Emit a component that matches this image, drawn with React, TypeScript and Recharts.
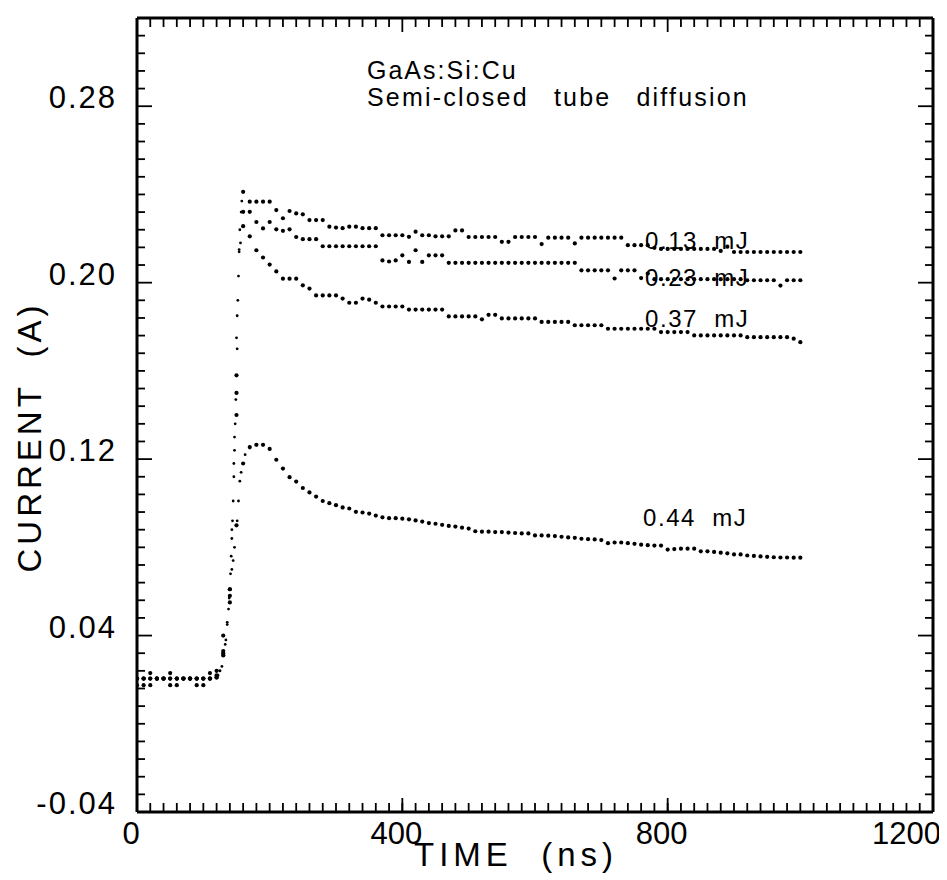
import React from "react";
import { ReferenceDot, Scatter, ScatterChart, XAxis, YAxis } from "recharts";

// sample times (ns) shared by the four traces
const timeNs = [
  0, 10, 20, 30, 40, 50, 60, 70, 80, 90,
  100, 110, 120, 130, 140, 150, 160, 170, 180, 190,
  200, 210, 220, 230, 240, 250, 260, 270, 280, 290,
  300, 310, 320, 330, 340, 350, 360, 370, 380, 390,
  400, 410, 420, 430, 440, 450, 460, 470, 480, 490,
  500, 510, 520, 530, 540, 550, 560, 570, 580, 590,
  600, 610, 620, 630, 640, 650, 660, 670, 680, 690,
  700, 710, 720, 730, 740, 750, 760, 770, 780, 790,
  800, 810, 820, 830, 840, 850, 860, 870, 880, 890,
  900, 910, 920, 930, 940, 950, 960, 970, 980, 990,
  1000,
];

// current (A) for each pulse energy
const current013 = [
  0.0205, 0.0205, 0.023, 0.0205, 0.0205, 0.023, 0.0205, 0.0205, 0.0205, 0.0205,
  0.0205, 0.023, 0.022, 0.033, 0.061, 0.158, 0.2412, 0.2367, 0.2367, 0.2367,
  0.2367, 0.2329, 0.2292, 0.2325, 0.2314, 0.231, 0.2284, 0.2284, 0.2284, 0.2254,
  0.225, 0.2247, 0.2254, 0.2254, 0.2247, 0.2247, 0.2247, 0.2215, 0.2215, 0.2215,
  0.2215, 0.2208, 0.2231, 0.2215, 0.2215, 0.221, 0.221, 0.221, 0.2237, 0.2237,
  0.2207, 0.2207, 0.2207, 0.2207, 0.2207, 0.2185, 0.2185, 0.2207, 0.2207, 0.2207,
  0.2207, 0.2175, 0.2204, 0.2204, 0.2204, 0.2204, 0.2178, 0.2204, 0.2204, 0.2204,
  0.2204, 0.2204, 0.2204, 0.2204, 0.217, 0.217, 0.217, 0.217, 0.2158, 0.2153,
  0.2153, 0.2153, 0.2153, 0.2153, 0.2153, 0.2153, 0.2153, 0.2153, 0.2144, 0.2163,
  0.2139, 0.2139, 0.2139, 0.2139, 0.2139, 0.2139, 0.2139, 0.2139, 0.2139, 0.2139,
  0.2139,
];

const current023 = [
  0.0205, 0.0205, 0.0205, 0.0205, 0.0205, 0.0205, 0.0205, 0.0205, 0.0205, 0.0205,
  0.0205, 0.0205, 0.021, 0.032, 0.058, 0.15, 0.2321, 0.2321, 0.2275, 0.2246,
  0.2275, 0.2242, 0.2235, 0.2242, 0.2207, 0.2197, 0.2197, 0.2197, 0.2165, 0.2165,
  0.2165, 0.2165, 0.2165, 0.2165, 0.2165, 0.2165, 0.2165, 0.2101, 0.2096, 0.2101,
  0.2124, 0.2094, 0.2147, 0.2094, 0.2124, 0.2124, 0.2124, 0.209, 0.209, 0.209,
  0.209, 0.209, 0.209, 0.209, 0.209, 0.209, 0.209, 0.209, 0.209, 0.209,
  0.209, 0.209, 0.209, 0.209, 0.209, 0.209, 0.209, 0.2056, 0.2056, 0.2056,
  0.2056, 0.2056, 0.2019, 0.2056, 0.2056, 0.2056, 0.2021, 0.2041, 0.2016, 0.2016,
  0.2016, 0.2016, 0.2016, 0.2016, 0.2016, 0.2016, 0.2016, 0.2016, 0.2016, 0.2016,
  0.2016, 0.2016, 0.2011, 0.2011, 0.2011, 0.2011, 0.2011, 0.1987, 0.2011, 0.2011,
  0.2011,
];

const current037 = [
  0.0205, 0.0205, 0.0205, 0.0205, 0.0205, 0.0205, 0.0205, 0.0205, 0.0205, 0.0205,
  0.0205, 0.0205, 0.021, 0.031, 0.055, 0.14, 0.2256, 0.221, 0.2147, 0.2114,
  0.2082, 0.2051, 0.2018, 0.2018, 0.2018, 0.1988, 0.1973, 0.1942, 0.1942, 0.1942,
  0.1942, 0.1928, 0.1909, 0.1909, 0.1928, 0.1923, 0.1909, 0.1892, 0.1892, 0.1892,
  0.1892, 0.1878, 0.1878, 0.1878, 0.1878, 0.1878, 0.1878, 0.1847, 0.1847, 0.1847,
  0.1847, 0.1847, 0.1834, 0.1854, 0.1854, 0.1838, 0.1838, 0.1838, 0.1838, 0.1838,
  0.1838, 0.1822, 0.1822, 0.1822, 0.1822, 0.1822, 0.1807, 0.1807, 0.1807, 0.1807,
  0.1807, 0.1791, 0.1791, 0.1791, 0.1791, 0.1791, 0.1791, 0.1791, 0.1791, 0.1776,
  0.1776, 0.1776, 0.1776, 0.1776, 0.1761, 0.1761, 0.1761, 0.1761, 0.1761, 0.1761,
  0.1761, 0.1761, 0.1753, 0.1753, 0.1753, 0.1753, 0.1753, 0.1753, 0.1753, 0.1746,
  0.173,
];

const current044 = [
  0.0175, 0.0175, 0.0175, 0.0205, 0.0205, 0.0175, 0.0175, 0.0205, 0.0205, 0.0175,
  0.0175, 0.0205, 0.024, 0.04, 0.061, 0.09, 0.118, 0.1255, 0.1265, 0.1265,
  0.1246, 0.1197, 0.1157, 0.1118, 0.1098, 0.1069, 0.1049, 0.103, 0.101, 0.1,
  0.0991, 0.0981, 0.0976, 0.0961, 0.0958, 0.0953, 0.0944, 0.0936, 0.0932, 0.0932,
  0.093, 0.0927, 0.0922, 0.0917, 0.091, 0.0907, 0.0902, 0.0897, 0.0894, 0.0889,
  0.0885, 0.0873, 0.0871, 0.0871, 0.0869, 0.0869, 0.0867, 0.0865, 0.0863, 0.0863,
  0.0854, 0.0854, 0.0853, 0.0851, 0.0848, 0.0845, 0.0843, 0.0839, 0.0837, 0.0836,
  0.0833, 0.0819, 0.0822, 0.0822, 0.0819, 0.0816, 0.0812, 0.081, 0.0808, 0.0808,
  0.079, 0.0792, 0.0794, 0.0794, 0.0794, 0.0782, 0.0782, 0.0779, 0.0776, 0.0773,
  0.0768, 0.0768, 0.0763, 0.0761, 0.0759, 0.0757, 0.0755, 0.0754, 0.0754, 0.0753,
  0.0753,
];

// finer samples on the fast rising edge
const riseTime013 = [122, 125, 128, 131, 134, 136, 138, 140, 141, 142, 143, 144, 145, 146, 147, 148, 149, 151, 152, 153, 154, 155, 157, 158];
const rise013 = [0.022, 0.024, 0.026, 0.031, 0.038, 0.045, 0.052, 0.061, 0.068, 0.076, 0.084, 0.092, 0.101, 0.112, 0.124, 0.136, 0.147, 0.17, 0.192, 0.203, 0.214, 0.224, 0.232, 0.237];
const riseTime023 = [139, 146, 150, 154];
const rise023 = [0.057, 0.118, 0.175, 0.215];
const riseTime037 = [143, 147, 151, 156];
const rise037 = [0.088, 0.13, 0.185, 0.218];
const riseTime044 = [125, 133, 136, 143, 145, 147, 151, 153, 155, 157, 163, 170];
const rise044 = [0.024, 0.036, 0.046, 0.07, 0.074, 0.08, 0.092, 0.101, 0.11, 0.114, 0.122, 0.125];

const pulseEnergies = ["0.13", "0.23", "0.37", "0.44"];
const xLabels = [0, 400, 800, 1200];

const zip = (ts: number[], vs: number[]) => ts.map((t, i) => ({ t, v: vs[i] }));

const trace013 = zip(timeNs, current013);
const trace023 = zip(timeNs, current023);
const trace037 = zip(timeNs, current037);
const trace044 = zip(timeNs, current044);
const edge = [
  ...zip(riseTime013, rise013),
  ...zip(riseTime023, rise023),
  ...zip(riseTime037, rise037),
  ...zip(riseTime044, rise044),
];

const X_MIN = 0;
const X_MAX = 1200;
const Y_MIN = -0.04;
const Y_MAX = 0.32;

const CHART_W = 939;
const CHART_H = 872;
const LEFT_W = 129;
const RIGHT_M = 13;
const TOP_M = 9;
const BOTTOM_M = 8;
const X_AXIS_H = 60;
const PLOT_W = CHART_W - LEFT_W - 1 - RIGHT_M;
const PLOT_TOP = TOP_M + 1;
const PLOT_BOTTOM = CHART_H - BOTTOM_M - X_AXIS_H;

const xTicks: number[] = [];
for (let t = X_MIN; t <= X_MAX; t += 20) xTicks.push(t);
const yTicks: number[] = [];
for (let k = -5; k <= 40; k++) yTicks.push(Number((k * 0.008).toFixed(3)));

const FONT = "'Liberation Sans', Arial, Helvetica, sans-serif";
const INK = "#000";

const isMajorY = (v: number) => {
  const k = Math.round(v * 125);
  return ((k % 10) + 10) % 10 === 5;
};

// x pixel of a time tick inside the chart svg
const xPixel = (t: number) => LEFT_W + ((t - X_MIN) / (X_MAX - X_MIN)) * PLOT_W;

// bottom axis: tick lines come from tickLine (drawn inward), this only adds the labels
const BottomLabel = (p: any) => {
  const v = p.payload.value;
  if (!xLabels.includes(v)) return <g />;
  const last = v === 1200;
  return (
    <text
      x={last ? p.x + 8 : p.x - 6}
      y={p.y + 41}
      textAnchor={last ? "end" : "middle"}
      fontSize={31}
      fontFamily={FONT}
      fill={INK}
    >
      {v}
    </text>
  );
};

const LeftTick = (p: any) => {
  const v = p.payload.value;
  const major = isMajorY(v);
  return (
    <g>
      <line x1={p.x} x2={p.x + (major ? 15 : 8)} y1={p.y} y2={p.y} stroke={INK} strokeWidth={1.8} />
      {major && (
        <text
          x={p.x - 20}
          y={p.y - 9}
          dy="0.36em"
          textAnchor="end"
          fontSize={31}
          letterSpacing={2}
          fontFamily={FONT}
          fill={INK}
        >
          {v.toFixed(2)}
        </text>
      )}
    </g>
  );
};

const RightTick = (p: any) => {
  const major = isMajorY(p.payload.value);
  return <line x1={p.x} x2={p.x - (major ? 15 : 8)} y1={p.y} y2={p.y} stroke={INK} strokeWidth={1.8} />;
};

const bigDot = (p: any) => <circle cx={p.cx} cy={p.cy} r={2.1} fill={INK} />;
const smallDot = (p: any) => <circle cx={p.cx} cy={p.cy} r={1.4} fill={INK} />;
const noDot = () => <g />;

const curveLabel = (text: string) => (p: any) => (
  <text
    x={p.cx}
    y={p.cy}
    dy="0.36em"
    fontSize={24}
    letterSpacing={1.5}
    fontFamily={FONT}
    fill={INK}
    style={{ whiteSpace: "pre" }}
  >
    {text}
  </text>
);

const axisLine = { stroke: INK, strokeWidth: 3 };
const xTickLine = { stroke: INK, strokeWidth: 1.8 };

export default function App() {
  return (
    <div style={{ position: "relative", width: CHART_W, height: CHART_H, background: "#fff" }}>
      <ScatterChart width={CHART_W} height={CHART_H} margin={{ top: TOP_M, right: RIGHT_M, bottom: BOTTOM_M, left: 0 }}>
        <XAxis
          type="number"
          dataKey="t"
          domain={[X_MIN, X_MAX]}
          ticks={xTicks}
          interval={0}
          height={X_AXIS_H}
          tickSize={-9}
          tickMargin={0}
          tickLine={xTickLine}
          axisLine={axisLine}
          tick={BottomLabel}
          allowDataOverflow
        />
        <XAxis
          xAxisId="top"
          orientation="top"
          type="number"
          dataKey="t"
          domain={[X_MIN, X_MAX]}
          height={1}
          tickLine={false}
          tick={false}
          axisLine={axisLine}
          allowDataOverflow
        />
        <YAxis
          type="number"
          dataKey="v"
          domain={[Y_MIN, Y_MAX]}
          ticks={yTicks}
          interval={0}
          width={LEFT_W}
          tickSize={0}
          tickMargin={0}
          tickLine={false}
          axisLine={axisLine}
          tick={LeftTick}
          allowDataOverflow
        />
        <YAxis
          yAxisId="right"
          orientation="right"
          type="number"
          dataKey="v"
          domain={[Y_MIN, Y_MAX]}
          ticks={yTicks}
          interval={0}
          width={1}
          tickSize={0}
          tickMargin={0}
          tickLine={false}
          axisLine={axisLine}
          tick={RightTick}
          allowDataOverflow
        />
        <Scatter data={trace013} shape={bigDot} isAnimationActive={false} />
        <Scatter data={trace023} shape={bigDot} isAnimationActive={false} />
        <Scatter data={trace037} shape={bigDot} isAnimationActive={false} />
        <Scatter data={trace044} shape={bigDot} isAnimationActive={false} />
        <Scatter data={edge} shape={smallDot} isAnimationActive={false} />
        <Scatter data={trace013} xAxisId="top" yAxisId="right" shape={noDot} isAnimationActive={false} />
        <ReferenceDot x={766} y={0.2193} r={0} shape={curveLabel(`${pulseEnergies[0]}  mJ`)} />
        <ReferenceDot x={766} y={0.2025} r={0} shape={curveLabel(`${pulseEnergies[1]}  mJ`)} />
        <ReferenceDot x={766} y={0.1839} r={0} shape={curveLabel(`${pulseEnergies[2]}  mJ`)} />
        <ReferenceDot x={763} y={0.0937} r={0} shape={curveLabel(`${pulseEnergies[3]}  mJ`)} />
      </ScatterChart>

      {/* inward time ticks along the top edge and the longer labelled ticks on the bottom edge */}
      <svg
        width={CHART_W}
        height={CHART_H}
        style={{ position: "absolute", left: 0, top: 0, pointerEvents: "none" }}
      >
        {xTicks.map((t) => (
          <line
            key={`top-${t}`}
            x1={xPixel(t)}
            x2={xPixel(t)}
            y1={PLOT_TOP}
            y2={PLOT_TOP + (xLabels.includes(t) ? 14 : 9)}
            stroke={INK}
            strokeWidth={1.8}
          />
        ))}
        {xLabels.map((t) => (
          <line
            key={`bot-${t}`}
            x1={xPixel(t)}
            x2={xPixel(t)}
            y1={PLOT_BOTTOM}
            y2={PLOT_BOTTOM - 14}
            stroke={INK}
            strokeWidth={1.8}
          />
        ))}
      </svg>

      <div
        style={{
          position: "absolute",
          left: 359,
          top: 50,
          fontFamily: FONT,
          fontSize: 25,
          lineHeight: "25px",
          letterSpacing: 2,
          whiteSpace: "pre",
          color: INK,
        }}
      >
        GaAs:Si:Cu
      </div>
      <div
        style={{
          position: "absolute",
          left: 359,
          top: 77,
          fontFamily: FONT,
          fontSize: 25,
          lineHeight: "25px",
          letterSpacing: 2.2,
          wordSpacing: 16,
          whiteSpace: "pre",
          color: INK,
        }}
      >
        Semi-closed tube diffusion
      </div>

      <div
        style={{
          position: "absolute",
          left: 508,
          top: 830,
          transform: "translateX(-50%)",
          fontFamily: FONT,
          fontSize: 33,
          lineHeight: "34px",
          letterSpacing: 5,
          whiteSpace: "pre",
          color: INK,
        }}
      >
        TIME  (ns)
      </div>

      <div
        style={{
          position: "absolute",
          left: 22,
          top: 429,
          transform: "translate(-50%, -50%) rotate(-90deg)",
          fontFamily: FONT,
          fontSize: 33,
          lineHeight: "34px",
          letterSpacing: 4,
          whiteSpace: "pre",
          color: INK,
        }}
      >
        CURRENT  (A)
      </div>
    </div>
  );
}
